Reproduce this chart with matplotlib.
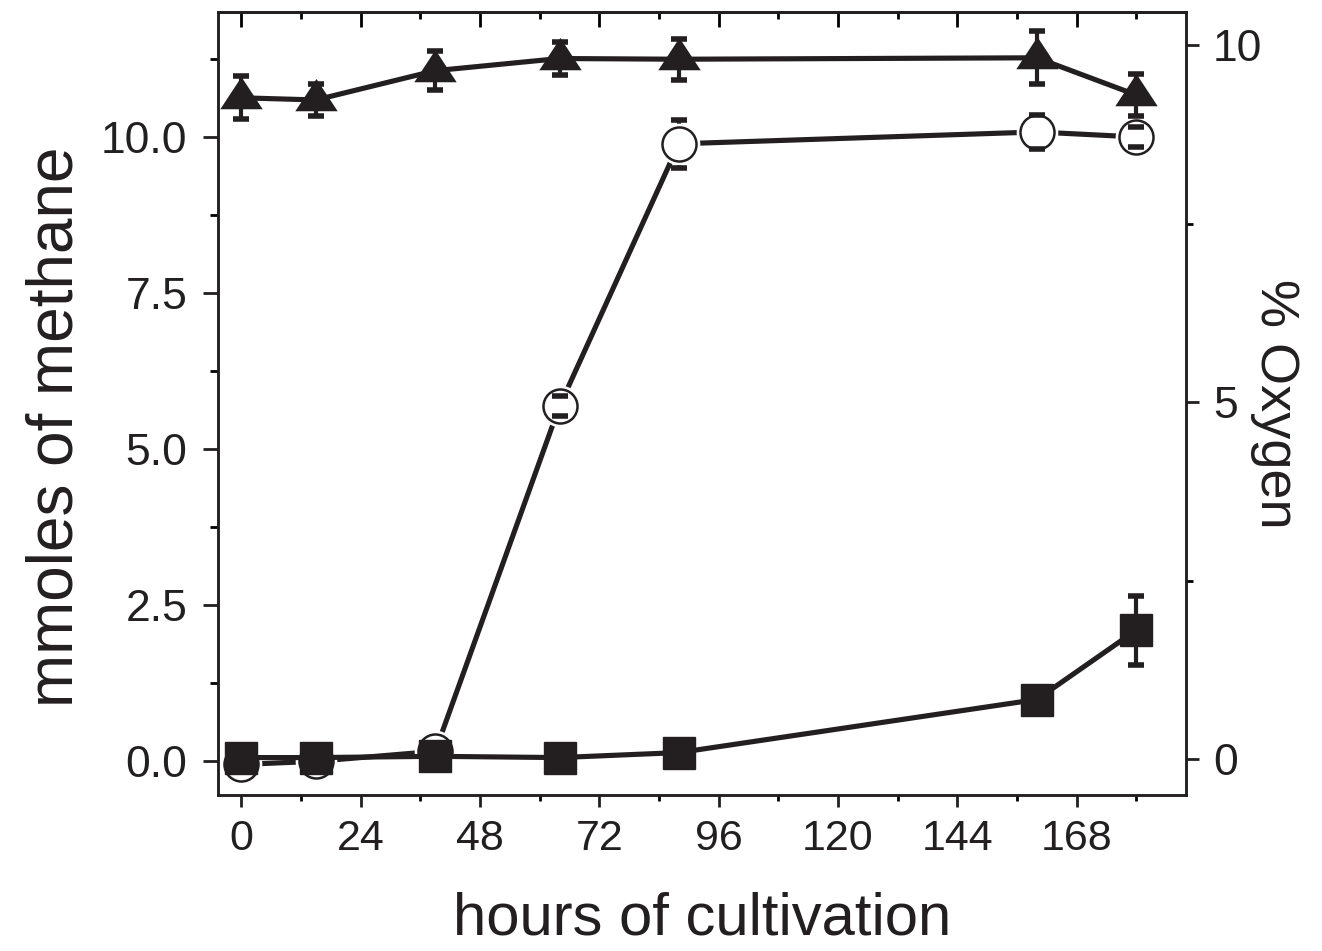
import matplotlib
matplotlib.use("Agg")
import matplotlib.pyplot as plt
from matplotlib.ticker import MultipleLocator, FormatStrFormatter

plt.rcParams['font.family'] = ['Liberation Sans', 'DejaVu Sans']

# data
hours = [0, 15, 39, 64, 88, 160, 180]

oxygen = [9.26, 9.23, 9.64, 9.81, 9.80, 9.82, 9.30]          # filled triangles, right axis
oxygen_err = [0.30, 0.22, 0.27, 0.23, 0.29, 0.37, 0.30]

methane_open = [-0.05, 0.0, 0.16, 5.69, 9.89, 10.08, 10.0]  # open circles
methane_open_err = [0.05, 0.05, 0.10, 0.16, 0.38, 0.27, 0.16]

methane_sq = [0.06, 0.06, 0.08, 0.06, 0.14, 0.99, 2.10]     # filled squares
methane_sq_err = [0.03, 0.03, 0.03, 0.03, 0.05, 0.08, 0.55]

x_ticks = [0, 24, 48, 72, 96, 120, 144, 168]
left_ticks = [0.0, 2.5, 5.0, 7.5, 10.0]
right_ticks = [0, 5, 10]

ink = '#231f20'
lw = 3.7

fig = plt.figure(figsize=(13.22, 9.51), dpi=100)
ax = fig.add_axes([0.1649, 0.164, 0.7322, 0.8233])
ax2 = ax.twinx()

# open circles
eb = ax.errorbar(hours, methane_open, yerr=methane_open_err, fmt='none', ecolor=ink,
                 elinewidth=3, capsize=5.8, capthick=4, zorder=2)
for cap in eb[1]:
    cap.set_zorder(5)
ax.plot(hours, methane_open, '-', color=ink, lw=lw, zorder=2)
ax.plot(hours, methane_open, 'o', ms=29, mfc='white', mec='white', zorder=3)
ax.plot(hours, methane_open, 'o', ms=24.5, mfc='white', mec=ink, mew=1.8, zorder=4)

# filled squares
ax.errorbar(hours, methane_sq, yerr=methane_sq_err, fmt='none', ecolor=ink,
            elinewidth=3, capsize=5.8, capthick=4, zorder=6)
ax.plot(hours, methane_sq, 's-', color=ink, lw=lw, ms=23, mec=ink, zorder=7)

# filled triangles (oxygen)
tri = [(-1.97, -1), (1.97, -1), (0, 2)]
ax2.errorbar(hours, oxygen, yerr=oxygen_err, fmt='none', ecolor=ink,
             elinewidth=3, capsize=5.8, capthick=4, zorder=2)
ax2.plot(hours, oxygen, '-', color=ink, lw=lw, zorder=3)
ax2.plot(hours, oxygen, ls='none', marker=tri, ms=31, color=ink, mew=0, zorder=4)

# axes limits and ticks
ax.set_xlim(-4.7, 190)
ax.set_ylim(-0.54, 12.0)
ax2.set_ylim(-0.5, 10.46)

ax.set_xticks(x_ticks, [str(t) for t in x_ticks], fontsize=31)
ax.xaxis.set_minor_locator(MultipleLocator(12))
ax.set_yticks(left_ticks)
ax.yaxis.set_major_formatter(FormatStrFormatter('%.1f'))
ax.yaxis.set_minor_locator(MultipleLocator(1.25))
ax2.set_yticks(right_ticks)
ax2.yaxis.set_minor_locator(MultipleLocator(2.5))

ax.tick_params(axis='x', which='major', direction='out', length=8.5, width=2, pad=9,
               colors=ink)
ax.tick_params(axis='x', which='minor', direction='out', length=4, width=2)
ax.tick_params(axis='y', which='major', direction='out', length=11, width=2, pad=11,
               labelsize=32, colors=ink)
ax.tick_params(axis='y', which='minor', direction='out', length=6, width=2)
ax2.tick_params(axis='y', which='major', direction='out', length=9.5, width=2, pad=10,
                labelsize=32, colors=ink)
ax2.tick_params(axis='y', which='minor', direction='out', length=5, width=2)

top = ax.secondary_xaxis('top')
top.set_xticks(x_ticks)
top.xaxis.set_minor_locator(MultipleLocator(12))
top.tick_params(which='major', direction='in', length=11, width=2, labeltop=False)
top.tick_params(which='minor', direction='in', length=5, width=2)

for a in (ax, ax2):
    for s in a.spines.values():
        s.set_linewidth(1.8)
        s.set_color(ink)
top.spines['top'].set_linewidth(1.8)

ax.set_xlabel('hours of cultivation', fontsize=43, va='center', color=ink)
ax.xaxis.set_label_coords(0.5, -0.158)
ax.set_ylabel('mmoles of methane', fontsize=46, va='center', color=ink)
ax.yaxis.set_label_coords(-0.168, 0.47)
ax2.set_ylabel('% Oxygen', fontsize=39, rotation=270, va='center', color=ink)
ax2.yaxis.set_label_coords(1.092, 0.5)

fig.savefig('out.png', dpi=100)
